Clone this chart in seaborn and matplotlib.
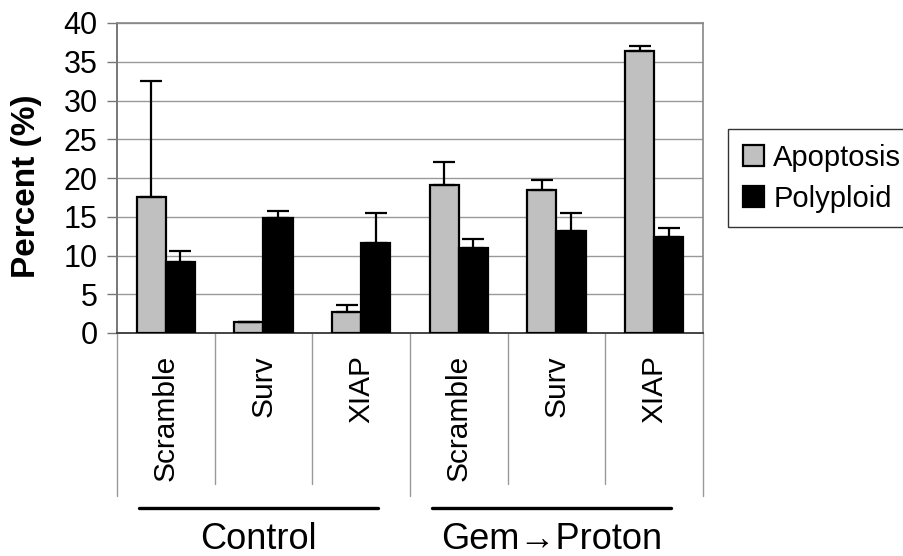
import numpy as np
import pandas as pd
import seaborn as sns
import matplotlib.pyplot as plt

# values
groups = ["Control", "Gem\u2192Proton"]
genes = ["Scramble", "Surv", "XIAP"]
series = ["Apoptosis", "Polyploid"]
apoptosis = [17.6, 1.4, 2.7, 19.1, 18.5, 36.4]
apoptosis_err = [14.9, 0.0, 0.9, 3.0, 1.2, 0.6]
polyploid = [9.1, 14.9, 11.6, 11.0, 13.1, 12.4]
polyploid_err = [1.5, 0.8, 3.9, 1.1, 2.4, 1.2]
yticks = [0, 5, 10, 15, 20, 25, 30, 35, 40]

sns.set_theme(style="white")
plt.rcParams['font.family'] = ['Liberation Sans', 'DejaVu Sans']
plt.rcParams['text.color'] = 'black'
plt.rcParams['axes.labelcolor'] = 'black'
plt.rcParams['xtick.labelcolor'] = 'black'
plt.rcParams['ytick.labelcolor'] = 'black'

conds = [f"{g}|{n}" for g in groups for n in genes]
df = pd.DataFrame({
    "cond": conds * 2,
    "series": [series[0]] * 6 + [series[1]] * 6,
    "value": apoptosis + polyploid,
})
errs = {series[0]: apoptosis_err, series[1]: polyploid_err}

fig = plt.figure(figsize=(9.04, 5.56), dpi=100)
ax = fig.add_axes([117 / 904, 1 - 333 / 556, 586 / 904, 310 / 556])

sns.barplot(data=df, x="cond", y="value", hue="series", order=conds,
            hue_order=series, palette=["#c0c0c0", "black"], width=0.6,
            edgecolor="black", linewidth=1.6, errorbar=None, ax=ax, zorder=3)

# upward-only error bars at the bar centres
for cont, name in zip(ax.containers, series):
    xs = [p.get_x() + p.get_width() / 2 for p in cont.patches]
    ys = [p.get_height() for p in cont.patches]
    e = errs[name]
    ax.errorbar(xs, ys, yerr=[np.zeros(len(e)), e], fmt="none", ecolor="black",
                elinewidth=1.6, capsize=8, capthick=1.6, zorder=4)

ax.set_ylim(0, 40)
ax.set_xlim(-0.5, len(conds) - 0.5)
ax.set_yticks(yticks)
ax.set_yticklabels([str(t) for t in yticks], fontsize=22)
ax.yaxis.grid(True, color="#999999", linewidth=1.0, zorder=0)
ax.tick_params(axis="y", direction="out", length=7, width=1.0, color="#777777",
               pad=7, left=True)
for side in ["top", "right"]:
    ax.spines[side].set_color("#888888")
    ax.spines[side].set_linewidth(1.2)
ax.spines["left"].set_color("#777777")
ax.spines["left"].set_linewidth(1.4)
ax.spines["bottom"].set_color("#444444")
ax.spines["bottom"].set_linewidth(1.4)

ax.set_xlabel("")
ax.set_ylabel("Percent (%)", fontsize=24, fontweight="bold")
ax.yaxis.set_label_coords(-0.128, 0.475)

# category names, rotated and top-aligned under each slot
ax.set_xticks(range(len(conds)))
ax.set_xticklabels([])
ax.tick_params(axis="x", length=0)
trans = ax.get_xaxis_transform()
for i, c in enumerate(conds):
    ax.text(i, -0.071, c.split("|")[1], transform=trans, rotation=90,
            ha="center", va="top", fontsize=21.5)

# category separators below the axis
for i in range(len(conds) + 1):
    low = -0.526 if i % len(genes) == 0 else -0.487
    ax.plot([i - 0.5, i - 0.5], [0, low], transform=trans, color="#999999",
            linewidth=1.0, clip_on=False)

# group underline and labels
for k, g in enumerate(groups):
    mid = k * len(genes) + (len(genes) - 1) / 2 - 0.05
    ax.plot([mid - 1.22, mid + 1.22], [-0.565, -0.565], transform=trans,
            color="black", linewidth=2.4, clip_on=False)
    ax.text(mid, -0.665, g, transform=trans, ha="center", va="center",
            fontsize=26)

leg = ax.legend(loc="upper left", bbox_to_anchor=(728 / 904, 1 - 129 / 556),
                bbox_transform=fig.transFigure, fontsize=21, frameon=True,
                fancybox=False, edgecolor="black", handlelength=0.75,
                handleheight=0.75, handletextpad=0.3, labelspacing=0.45,
                borderpad=0.5, borderaxespad=0)
leg.get_frame().set_linewidth(1.0)

fig.savefig("out.png", dpi=100)
